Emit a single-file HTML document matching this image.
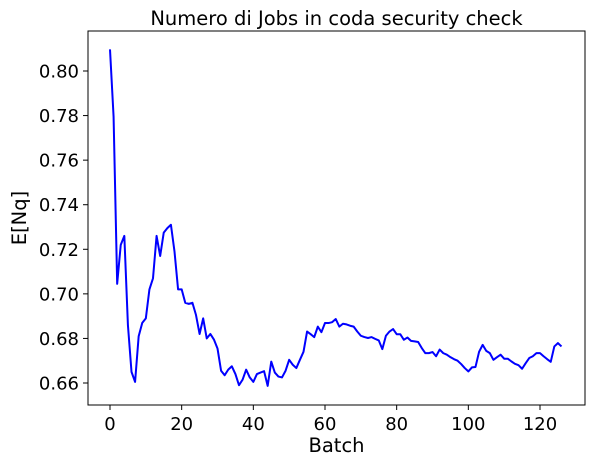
<!DOCTYPE html>
<html><head><meta charset="utf-8"><style>
html,body{margin:0;padding:0;background:#fff;width:593px;height:466px;overflow:hidden}
text{font-family:"DejaVu Sans","Liberation Sans",sans-serif;fill:#000}
</style></head><body>
<svg id="chart" width="593" height="466" xmlns="http://www.w3.org/2000/svg"></svg>
<script>
const yValues=[0.8097,0.7795,0.7045,0.722,0.726,0.686,0.665,0.6605,0.681,0.687,0.689,0.702,0.707,0.726,0.717,0.7275,0.7295,0.731,0.719,0.702,0.702,0.696,0.6955,0.696,0.6905,0.682,0.689,0.680,0.682,0.6795,0.6755,0.6655,0.6635,0.666,0.6675,0.664,0.659,0.6615,0.666,0.6625,0.6605,0.664,0.6647,0.6653,0.6587,0.6696,0.6647,0.6629,0.6625,0.6655,0.6704,0.6682,0.6667,0.6704,0.674,0.6831,0.6819,0.6806,0.6853,0.6828,0.6869,0.6869,0.6873,0.6887,0.6853,0.6866,0.6863,0.6857,0.6853,0.6831,0.6812,0.6806,0.6802,0.6806,0.6798,0.6791,0.6752,0.6812,0.6831,0.6842,0.6819,0.6819,0.6794,0.6804,0.6789,0.6787,0.6784,0.6757,0.6734,0.6734,0.6739,0.672,0.675,0.6734,0.6727,0.6716,0.6707,0.67,0.6685,0.6667,0.6652,0.667,0.6672,0.674,0.6771,0.6744,0.6734,0.6704,0.6716,0.6727,0.6709,0.6709,0.6697,0.6686,0.668,0.6664,0.6689,0.6712,0.672,0.6734,0.6734,0.672,0.6707,0.6695,0.6764,0.6779,0.6764];
const xTicks=[0,20,40,60,80,100,120];
const yTicks=[0.66,0.68,0.70,0.72,0.74,0.76,0.78,0.80];
const yTickLabels=["0.66","0.68","0.70","0.72","0.74","0.76","0.78","0.80"];
const svg=document.getElementById('chart');
const NS='http://www.w3.org/2000/svg';
const L=88,R=585,T=31,B=405;
function xs(v){return 110+v*(430/120);}
function ys(v){return 383-(v-0.66)*(312/0.14);}
function mk(tag,attrs,parent){const e=document.createElementNS(NS,tag);for(const k in attrs)e.setAttribute(k,attrs[k]);(parent||svg).appendChild(e);return e;}
const frame=mk('rect',{x:L,y:T,width:R-L,height:B-T,fill:'none',stroke:'#000','stroke-width':1});


xTicks.forEach(t=>{
  const tk=mk('line',{x1:xs(t),x2:xs(t),y1:B,y2:B+5,stroke:'#000'});
  
  
  const lb=mk('text',{x:xs(t),y:B+25,'text-anchor':'middle','font-size':18});
  lb.textContent=String(t);
  
  
});
yTicks.forEach((t,i)=>{
  const tk=mk('line',{x1:L-5,x2:L,y1:ys(t),y2:ys(t),stroke:'#000'});
  
  
  const lb=mk('text',{x:L-9,y:ys(t)+6.5,'text-anchor':'end','font-size':18});
  lb.textContent=yTickLabels[i];
  
  
});
const d=yValues.map((v,i)=>(i?'L':'M')+xs(i).toFixed(2)+','+ys(v).toFixed(2)).join('');
const line=mk('path',{d:d,fill:'none',stroke:'#0000ff','stroke-width':2,'stroke-linejoin':'round'});


const title=mk('text',{x:(L+R)/2,y:25,'text-anchor':'middle','font-size':19.5});
title.textContent='Numero di Jobs in coda security check';


const xt=mk('text',{x:(L+R)/2,y:452,'text-anchor':'middle','font-size':19.5});
xt.textContent='Batch';


const yt=mk('text',{x:0,y:0,'text-anchor':'middle','font-size':19.5,transform:'translate(26,218) rotate(-90)'});
yt.textContent='E[Nq]';


</script>
</body></html>
